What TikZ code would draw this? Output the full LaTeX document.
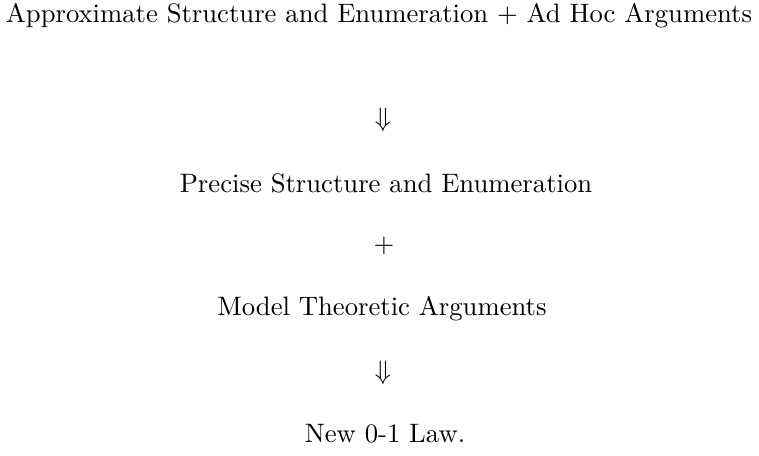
\documentclass[tikz,border=0pt]{standalone}
\usepackage{amssymb}
\begin{document}
\begin{tikzpicture}[x=0.375pt,y=-0.375pt,lbl/.style={inner sep=0pt,anchor=center}]
\useasboundingbox (0,0) rectangle (759,456);
\node[lbl] (a) at (379,16) {Approximate Structure and Enumeration + Ad Hoc Arguments};
\node[lbl] (b) at (383,120) {$\Downarrow$};
\node[lbl] (c) at (386,183) {Precise Structure and Enumeration};
\node[lbl] (d) at (384,246) {$+$};
\node[lbl] (e) at (382,309) {Model Theoretic Arguments};
\node[lbl] (f) at (383,373) {$\Downarrow$};
\node[lbl] (g) at (385,434) {New 0-1 Law.};
\end{tikzpicture}
\end{document}
